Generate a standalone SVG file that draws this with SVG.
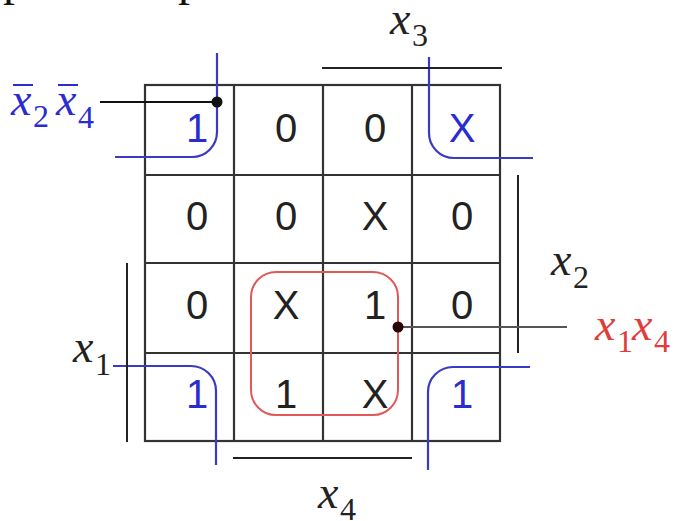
<svg xmlns="http://www.w3.org/2000/svg" width="675" height="521" viewBox="0 0 675 521">
<style>
.grid{fill:none;stroke:#333;stroke-width:2.2}
.bar{fill:none;stroke:#222;stroke-width:2}
.cell{font-family:"Liberation Sans",Arial,sans-serif;font-size:40px;text-anchor:middle;fill:#222}
.b{fill:#2b2bd0}
.loop{fill:none;stroke:#3a3ac4;stroke-width:2.2}
.lbl{font-family:"Liberation Serif","Times New Roman",serif;font-size:46px;font-style:italic;fill:#222}
.sub{font-size:32px;font-style:normal}
.frag{font-family:"Liberation Serif","Times New Roman",serif;font-size:48px;fill:#111}
</style>
<rect width="675" height="521" fill="#fff"/>
<text class="frag" x="3" y="-5">p</text>
<text class="frag" x="178" y="-5">p</text>
<g id="grid" class="grid">
<rect x="145" y="85" width="355" height="356"/>
<path d="M234,85V441M323,85V441M412,85V441M145,175H500M145,263H500M145,353H500"/>
</g>
<g id="cells" class="cell">
<text class="b" x="197" y="142">1</text><text x="286" y="142">0</text><text x="375" y="142">0</text><text class="b" x="462" y="142">X</text>
<text x="197" y="230">0</text><text x="286" y="230">0</text><text x="375" y="230">X</text><text x="462" y="230">0</text>
<text x="197" y="319">0</text><text x="286" y="319">X</text><text x="375" y="319">1</text><text x="462" y="319">0</text>
<text class="b" x="197" y="408">1</text><text x="286" y="408">1</text><text x="375" y="408">X</text><text class="b" x="462" y="408">1</text>
</g>
<g id="loop-x2x4" class="loop">
<path d="M217,53V132A25,25 0 0 1 192,157H115"/>
<path d="M429,57V133A25,25 0 0 0 454,158H533"/>
<path d="M113,366H191A25,25 0 0 1 216,391V465"/>
<path d="M530,367H453A25,25 0 0 0 428,392V470"/>
</g>
<g id="loop-x1x4">
<rect x="251" y="272" width="147" height="143" rx="25" fill="none" stroke="#e05a5a" stroke-width="2"/>
</g>
<g id="bars" class="bar">
<path d="M322,68H502"/>
<path d="M518,175V353"/>
<path d="M127,263V442"/>
<path d="M233,458H412"/>
</g>
<g id="connectors">
<path d="M100,102H217" stroke="#111" stroke-width="2" fill="none"/>
<circle cx="217" cy="102" r="5.5" fill="#111"/>
<path d="M398,327H567" stroke="#555" stroke-width="2.2" fill="none"/>
<circle cx="398" cy="327" r="5.5" fill="#2a0505"/>
</g>
<g id="label-x3"><text class="lbl" x="390" y="34">x<tspan class="sub" x="412" y="46">3</tspan></text></g>
<g id="label-x2"><text class="lbl" x="551" y="275">x<tspan class="sub" x="573" y="288">2</tspan></text></g>
<g id="label-x1"><text class="lbl" x="73" y="362">x<tspan class="sub" x="95" y="375">1</tspan></text></g>
<g id="label-x4"><text class="lbl" x="318" y="508">x<tspan class="sub" x="340" y="520">4</tspan></text></g>
<g id="label-nx2nx4">
<text class="lbl" x="11" y="115" style="fill:#2b2bd0">x<tspan class="sub" x="33" y="127">2</tspan><tspan x="56" y="115">x</tspan><tspan class="sub" x="78" y="128">4</tspan></text>
<path d="M13,85H33M58,85H78" stroke="#2b2bd0" stroke-width="2"/>
</g>
<g id="label-x1x4"><text class="lbl" x="595" y="340" style="fill:#e03c3c">x<tspan class="sub" x="617" y="352">1</tspan><tspan x="632" y="340">x</tspan><tspan class="sub" x="654" y="352">4</tspan></text></g>
</svg>
